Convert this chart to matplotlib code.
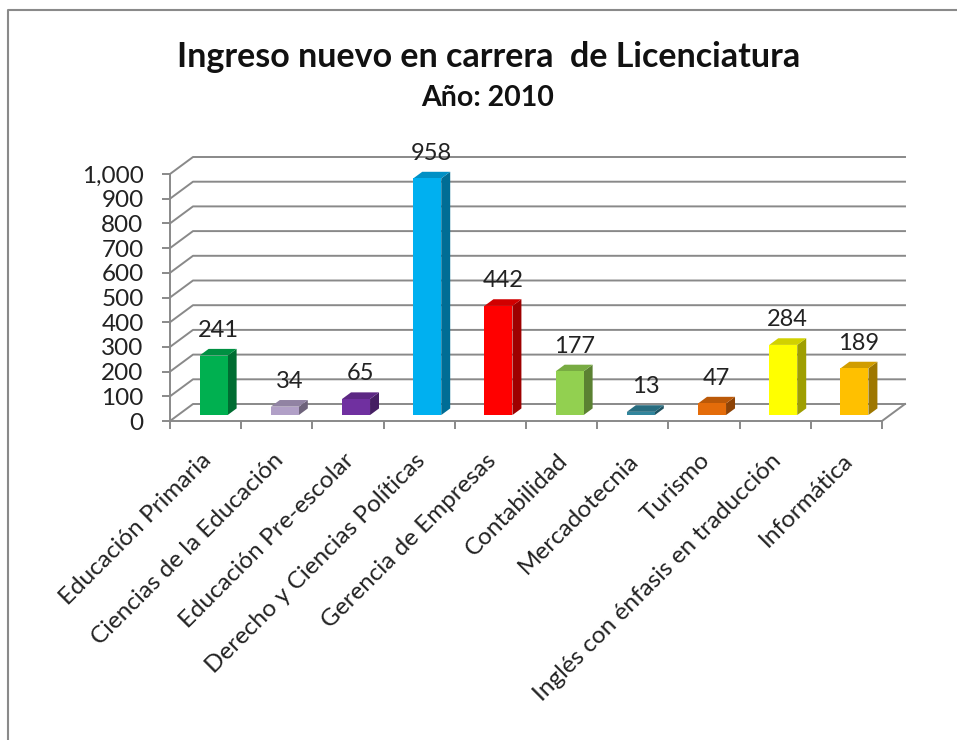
import matplotlib
matplotlib.use("Agg")
import matplotlib.pyplot as plt
from matplotlib.patches import Polygon
from matplotlib.lines import Line2D
import matplotlib.colors as mcolors

categories = ["Educación Primaria", "Ciencias de la Educación", "Educación Pre-escolar",
              "Derecho y Ciencias Políticas", "Gerencia de Empresas", "Contabilidad",
              "Mercadotecnia", "Turismo", "Inglés con énfasis en traducción", "Informática"]
values = [241, 34, 65, 958, 442, 177, 13, 47, 284, 189]
colors = ["#00B050", "#B1A0C7", "#7030A0", "#00B0F0", "#FF0000", "#92D050",
          "#31859C", "#E46C0A", "#FFFF00", "#FFC000"]
yticks = [0, 100, 200, 300, 400, 500, 600, 700, 800, 900, 1000]
title = "Ingreso nuevo en carrera  de Licenciatura"
subtitle = "Año: 2010"

FONT = ["Lato", "DejaVu Sans"]
plt.rcParams['font.family'] = FONT

W, H = 957, 740
fig = plt.figure(figsize=(W / 100, H / 100), dpi=100)
fig.patch.set_facecolor("white")

# axes geometry in pixels (front plane)
x0p, x1p, y0p, y1p = 170, 882, 421, 174
ax = fig.add_axes([x0p / W, 1 - y0p / H, (x1p - x0p) / W, (y0p - y1p) / H])
n = len(categories)
ax.set_xlim(0, n)
ax.set_ylim(0, 1000)
ax.set_facecolor("none")

# depth offsets (data units)
DX = 23 / ((x1p - x0p) / n)
DY = 17 / ((y0p - y1p) / 1000)

grid_c = "#898989"
lw = 1.4
for t in yticks:
    ax.add_line(Line2D([0, DX, n + DX], [t, t + DY, t + DY], color=grid_c, lw=lw,
                       clip_on=False, zorder=1))
# right floor edge
ax.add_line(Line2D([n, n + DX], [0, DY], color=grid_c, lw=lw, clip_on=False, zorder=1))

# bars
bw = 0.393
f0, f1 = 0.35, 0.74
for i, (v, c) in enumerate(zip(values, colors)):
    rgb = mcolors.to_rgb(c)
    top_c = tuple(ch * 0.82 for ch in rgb)
    side_c = tuple(ch * 0.62 for ch in rgb)
    xl = i + (1 - bw) / 2 + f0 * DX
    xr = xl + bw
    yb = f0 * DY
    yt = yb + v
    ddx = (f1 - f0) * DX
    ddy = (f1 - f0) * DY
    ax.add_patch(Polygon([(xr, yb), (xr + ddx, yb + ddy), (xr + ddx, yt + ddy), (xr, yt)],
                         closed=True, fc=side_c, ec="none", zorder=3, clip_on=False))
    ax.add_patch(Polygon([(xl, yt), (xr, yt), (xr + ddx, yt + ddy), (xl + ddx, yt + ddy)],
                         closed=True, fc=top_c, ec="none", zorder=3, clip_on=False))
    ax.add_patch(Polygon([(xl, yb), (xr, yb), (xr, yt), (xl, yt)],
                         closed=True, fc=c, ec="none", zorder=4, clip_on=False))
    ax.annotate(f"{v:,}", xy=((xl + xr) / 2 + ddx / 2, yt), xytext=(0, 18),
                textcoords="offset points", ha="center", va="center",
                fontsize=17, color="#222222", zorder=6, annotation_clip=False)

# spines / ticks
for s in ["top", "right"]:
    ax.spines[s].set_visible(False)
for s in ["left", "bottom"]:
    ax.spines[s].set_color(grid_c)
    ax.spines[s].set_linewidth(lw)
    ax.spines[s].set_zorder(5)
ax.set_yticks(yticks)
ax.set_yticklabels([f"{t:,}" for t in yticks], fontsize=17.5, color="#222222")
ax.tick_params(axis="y", length=6, width=lw, color=grid_c, pad=13)
ax.set_xticks(range(n + 1))
ax.set_xticklabels([])
ax.tick_params(axis="x", length=6, width=lw, color=grid_c)

for i, lab in enumerate(categories):
    ax.annotate(lab, xy=(i + 0.5, 0), xytext=(2, -26), textcoords="offset points",
                rotation=45, ha="right", va="center", rotation_mode="anchor",
                fontsize=17.5, color="#222222", annotation_clip=False)

# title
fig.text(489 / W, 1 - 57 / H, title, ha="center", va="center", fontsize=24.5,
         fontweight="bold", color="#111111")
fig.text(488 / W, 1 - 98 / H, subtitle, ha="center", va="center", fontsize=20.5,
         fontweight="bold", color="#111111")

# outer border
fig.add_artist(Line2D([8 / W, 8 / W, 1.0], [0.0, 1 - 10 / H, 1 - 10 / H],
                      transform=fig.transFigure, color="#8A8A8A", lw=1.5))

fig.savefig("out.png", dpi=100)
